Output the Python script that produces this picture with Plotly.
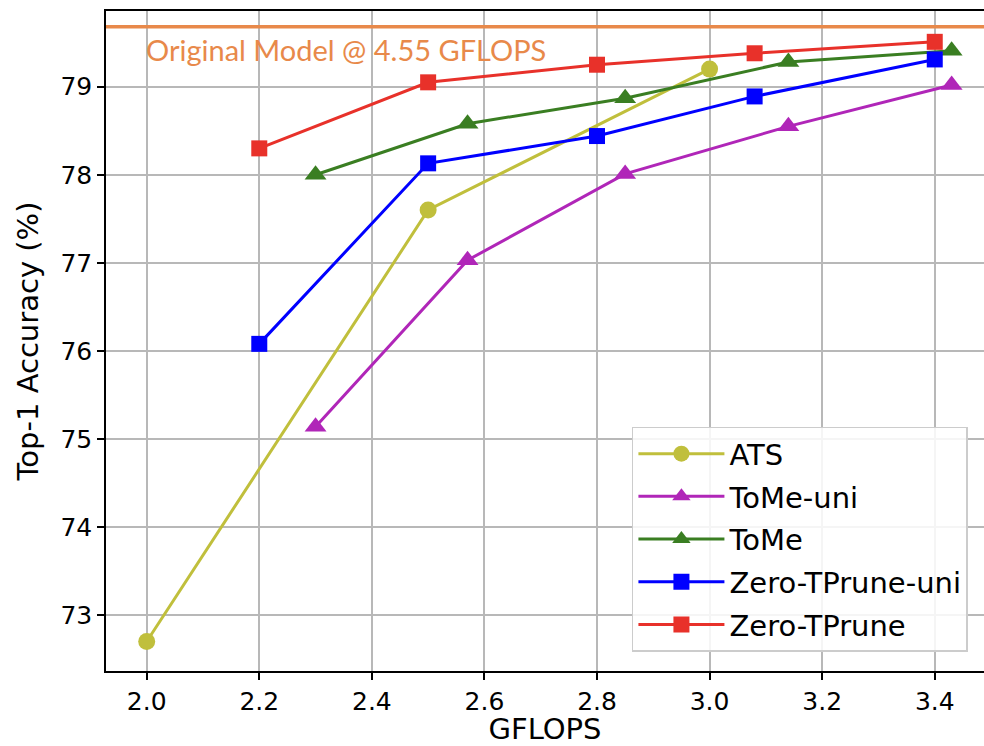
import plotly.graph_objects as go

# ---- data ----
ats_x = [2.0, 2.5, 3.0]
ats_y = [72.70, 77.60, 79.20]

tome_uni_x = [2.3, 2.57, 2.85, 3.14, 3.43]
tome_uni_y = [75.14, 77.03, 78.01, 78.55, 79.02]

tome_x = [2.3, 2.57, 2.85, 3.14, 3.43]
tome_y = [78.00, 78.58, 78.87, 79.28, 79.41]

ztp_uni_x = [2.2, 2.5, 2.8, 3.08, 3.4]
ztp_uni_y = [76.08, 78.13, 78.44, 78.89, 79.31]

ztp_x = [2.2, 2.5, 2.8, 3.08, 3.4]
ztp_y = [78.30, 79.05, 79.25, 79.38, 79.51]

original_acc = 79.68
original_label = "Original Model @ 4.55 GFLOPS"
label_pos = (1.996, 79.42)

series = [
    ("ATS", ats_x, ats_y, "#c0bf3c", "circle", 17),
    ("ToMe-uni", tome_uni_x, tome_uni_y, "#b026b8", "triangle-up", 19),
    ("ToMe", tome_x, tome_y, "#3a7e22", "triangle-up", 19),
    ("Zero-TPrune-uni", ztp_uni_x, ztp_uni_y, "#0000ff", "square", 16),
    ("Zero-TPrune", ztp_x, ztp_y, "#e8312a", "square", 16),
]

fig = go.Figure()
for i, (name, xs, ys, col, sym, sz) in enumerate(series):
    fig.add_trace(go.Scatter(
        x=xs, y=ys, name=name, mode="lines+markers",
        line=dict(color=col, width=3),
        marker=dict(symbol=sym, size=sz, color=col),
        legendgroup=f"g{i}",
    ))

fig.add_shape(type="line", xref="paper", x0=0, x1=1, yref="y",
              y0=original_acc, y1=original_acc,
              line=dict(color="#e8894a", width=3.5), layer="above")
fig.add_annotation(x=label_pos[0], y=label_pos[1], text=original_label,
                   showarrow=False, xanchor="left", yanchor="middle",
                   font=dict(family="Lato", size=29, color="#e8894a"))

axis_common = dict(
    showgrid=True, gridcolor="#b8b8b8", gridwidth=1.5,
    showline=True, linecolor="black", linewidth=1.6,
    ticks="outside", ticklen=7, tickwidth=1.5, tickcolor="black",
    tickfont=dict(family="DejaVu Sans", size=25, color="black"),
    zeroline=False,
)

fig.update_layout(
    width=984, height=746,
    margin=dict(l=106, r=0, t=11, b=75),
    paper_bgcolor="white", plot_bgcolor="white",
    font=dict(family="DejaVu Sans", color="black"),
    xaxis=dict(range=[1.9277, 3.4875], tick0=2.0, dtick=0.2, tickformat=".1f",
               mirror=True,
               title=dict(text="GFLOPS", font=dict(size=29), standoff=9),
               **axis_common),
    yaxis=dict(range=[72.365, 79.86], tick0=73, dtick=1, mirror=False,
               title=dict(text="Top-1 Accuracy (%)", font=dict(size=29), standoff=13),
               **axis_common),
    legend=dict(x=0.599, y=0.37, xanchor="left", yanchor="top",
                bgcolor="rgba(255,255,255,0.85)", bordercolor="#cccccc",
                borderwidth=1.5, font=dict(family="DejaVu Sans", size=29),
                traceorder="grouped", tracegroupgap=2,
                itemwidth=86),
    showlegend=True,
)

fig.write_html("out.html")
